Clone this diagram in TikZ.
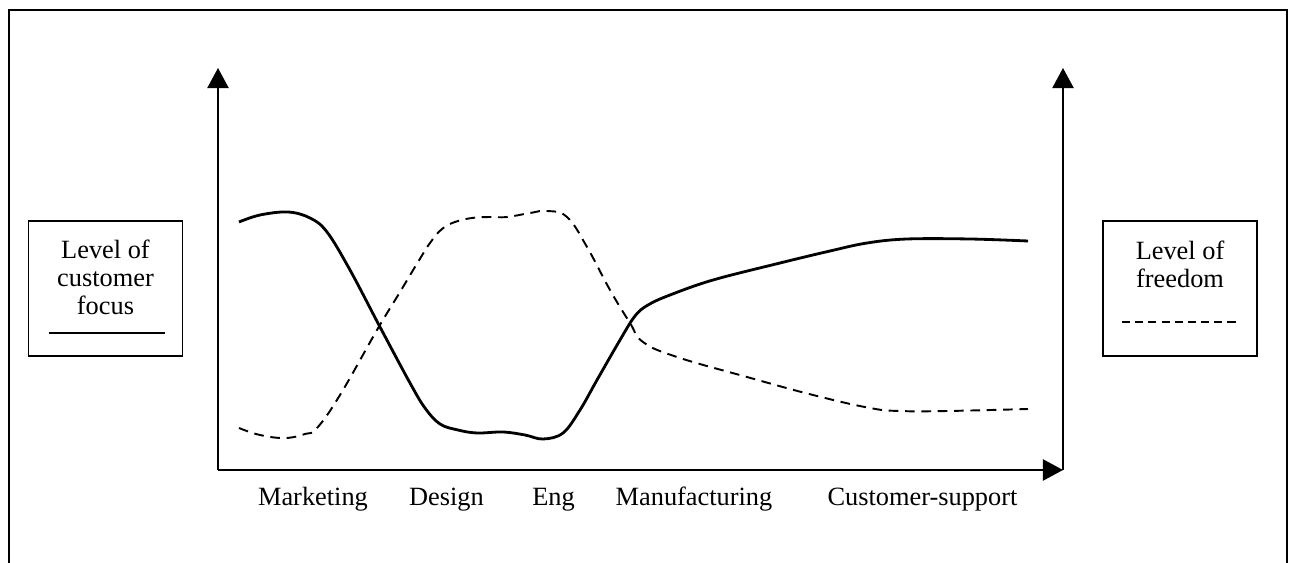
\documentclass[tikz,border=0pt]{standalone}
\usepackage{fontspec}
\setmainfont{Liberation Serif}
\usepackage{tikz}
\usetikzlibrary{arrows.meta, positioning, shapes}

\begin{document}
\begin{tikzpicture}[x=0.02cm, y=-0.02cm, font=\fontsize{15pt}{16pt}\selectfont]
    \tikzstyle{legendbox} = [rectangle, draw, line width=1pt, minimum width=3.08cm, minimum height=2.7cm]
    \tikzstyle{legendtext} = [align=center, inner sep=0pt]
    \tikzstyle{axis} = [draw, line width=1.1pt, -{Triangle[length=11.4pt, width=12pt]}]
    \tikzstyle{focusline} = [line width=1.6pt]
    \tikzstyle{freeline} = [line width=1.1pt, dash pattern=on 5.5pt off 3.8pt]
    \tikzstyle{stage} = [anchor=base, inner sep=0pt]

    \useasboundingbox (0,0) rectangle (1297,563);
    \draw[line width=1.1pt] (9,580) -- (9,10) -- (1287,10) -- (1287,580);

    % 定义坐标轴
    \coordinate (origin) at (218,470);
    \coordinate (corner) at (1063,470);
    \coordinate (lefttop) at (218,68);
    \coordinate (righttop) at (1063,68);
    \path [axis] (origin) -- (lefttop);
    \path [axis] (origin) -- (corner);
    \path [axis] (corner) -- (righttop);

    % 图例
    \node[legendbox] (focusbox) at (105.5,288.5) {};
    \node[legendtext] (focustext) at (105.5,277) {Level of\\customer\\focus};
    \coordinate (focusa) at (49,333);
    \coordinate (focusb) at (165,333);
    \draw[line width=1.1pt] (focusa) -- (focusb);

    \node[legendbox] (freebox) at (1180,288.5) {};
    \node[legendtext] (freetext) at (1180,264) {Level of\\freedom};
    \coordinate (freea) at (1122,322);
    \coordinate (freeb) at (1240,322);
    \draw[line width=1.1pt, dash pattern=on 4.6pt off 2.9pt] (freea) -- (freeb);

    % 阶段
    \node[stage] (marketing) at (313,505) {Marketing};
    \node[stage] (design) at (446.5,505) {Design};
    \node[stage] (eng) at (553.5,505) {Eng};
    \node[stage] (manufacturing) at (694,505) {Manufacturing};
    \node[stage] (support) at (922.5,505) {Customer-support};

    % 曲线
    \draw[focusline] plot[smooth, tension=0.6] coordinates {
        (239,222) (260,215) (288,212) (310,218) (327,232) (350,270) (380,327)
        (410,383) (425,408) (440,424) (458,430) (477,433) (503,432) (525,435)
        (543,439) (563,433) (580,410) (597,380) (620,340) (635,316) (648,305)
        (670,295) (713,280) (780,263) (830,251) (867,243) (907,239) (970,239)
        (1028,241)};
    \draw[freeline] plot[smooth, tension=0.7] coordinates {
        (239,428) (260,435) (285,438) (305,434) (317,428) (340,395) (377,330)
        (400,292) (418,262) (430,243) (442,229) (455,222) (472,218) (490,217)
        (507,217) (530,213) (547,211) (567,217) (587,247) (610,290) (630,323)
        (643,342) (677,357) (747,377) (813,395) (870,408) (900,411) (947,411)
        (1028,409)};
\end{tikzpicture}
\end{document}
